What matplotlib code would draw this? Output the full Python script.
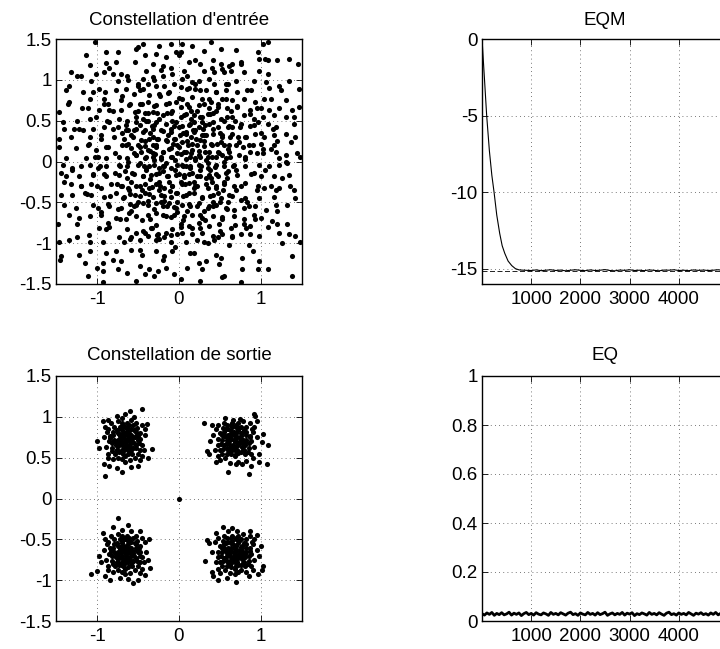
import numpy as np
import matplotlib
matplotlib.use("Agg")
import matplotlib.pyplot as plt

plt.rcParams['font.family'] = ['Liberation Sans', 'DejaVu Sans']
plt.rcParams['axes.unicode_minus'] = False

# ---------------- data ----------------
titles = ["Constellation d'entrée", "EQM", "Constellation de sortie", "EQ"]

# input constellation, by region
in_tl = [(-1.03,1.46),(-1.13,1.30),(-1.09,1.18),(-0.89,1.34),(-0.75,1.34),(-0.77,1.22),(-0.89,1.21),(-0.54,1.22),
 (-0.52,1.38),(-0.44,1.44),(-0.42,1.30),(-0.28,1.32),(-0.24,1.42),(-0.10,1.44),(-0.04,1.34),(-0.16,1.28),(-0.32,1.20),
 (-0.20,1.17),(-0.10,1.15),(-0.40,1.11),(-1.32,1.09),(-1.20,1.05),(-1.01,1.07),(-0.91,1.09),(-0.81,1.07),(-0.71,1.07),
 (-0.63,1.05),(-1.07,0.99),(-0.75,0.99),(-0.44,1.01),(-0.32,1.03),(-0.20,1.05),(-0.08,1.07),(-1.34,0.93),(-1.38,0.87),
 (-1.17,0.85),(-0.97,0.89),(-0.77,0.87),(-0.65,0.89),(-0.50,0.93),(-0.44,0.89),(-0.38,0.95),(-0.28,0.93),(-0.18,0.93),
 (-0.06,0.95),(-0.12,0.85),(-0.24,0.83),(-0.36,0.81),(-0.55,0.83),(-1.34,0.73),(-1.09,0.77),(-0.91,0.77),(-0.87,0.71),
 (-0.71,0.75),(-0.61,0.69),(-0.48,0.71),(-0.38,0.73),(-0.28,0.69),(-0.16,0.71),(-0.04,0.73),(-1.46,0.61),(-1.11,0.65),
 (-0.97,0.63),(-0.85,0.63),(-0.71,0.63),(-0.54,0.61),(-0.42,0.59),(-0.32,0.61),(-0.20,0.57),(-0.10,0.59),(-1.42,0.48),
 (-1.24,0.50),(-1.09,0.52),(-1.01,0.54),(-0.85,0.48),(-0.73,0.52),(-0.63,0.50),(-0.52,0.48),(-0.40,0.50),(-0.28,0.48),
 (-0.16,0.46),(-0.04,0.48),(-1.40,0.40),(-1.28,0.40),(-1.17,0.38),(-1.05,0.40),(-0.91,0.42),(-0.75,0.42),(-0.65,0.38),
 (-0.52,0.40),(-0.44,0.36),(-0.32,0.40),(-0.22,0.38),(-0.10,0.36),(-1.46,0.28),(-1.32,0.30),(-1.09,0.30),(-0.95,0.28),
 (-0.79,0.30),(-0.67,0.28),(-0.56,0.30),(-0.46,0.26),(-0.36,0.28),(-0.26,0.28),(-0.16,0.26),(-0.06,0.28),(-1.46,0.18),
 (-1.26,0.16),(-1.11,0.20),(-1.01,0.14),(-0.89,0.18),(-0.69,0.20),(-0.59,0.16),(-0.48,0.18),(-0.38,0.14),(-0.28,0.18),
 (-0.20,0.12),(-0.10,0.16),(-0.02,0.20),(-1.38,0.04),(-1.13,0.04),(-0.99,0.06),(-0.89,0.04),(-0.73,0.06),(-0.63,0.04),
 (-0.52,0.08),(-0.42,0.04),(-0.32,0.06),(-0.22,0.03),(-0.10,0.06)]

in_tr = [(0.04,1.44),(0.16,1.42),(0.39,1.46),(0.51,1.38),(0.69,1.36),(0.96,1.34),(1.02,1.44),(1.08,1.46),(0.02,1.34),
 (0.12,1.22),(0.20,1.24),(0.41,1.24),(0.51,1.20),(0.61,1.17),(0.65,1.20),(0.75,1.22),(0.98,1.26),(1.08,1.24),(1.20,1.24),
 (1.34,1.26),(0.06,1.11),(0.30,1.11),(0.43,1.09),(0.53,1.13),(0.63,1.11),(0.79,1.09),(0.98,1.11),(1.08,1.07),(0.04,1.01),
 (0.16,0.97),(0.24,0.99),(0.37,1.01),(0.43,0.95),(0.57,0.95),(0.69,0.99),(0.91,0.99),(1.06,0.97),(1.22,0.93),(1.34,0.99),
 (0.02,0.91),(0.10,0.89),(0.20,0.89),(0.33,0.87),(0.45,0.85),(0.57,0.87),(0.71,0.85),(0.83,0.87),(1.24,0.87),(1.46,0.89),
 (0.04,0.77),(0.16,0.79),(0.28,0.77),(0.39,0.73),(0.53,0.77),(0.65,0.75),(0.79,0.77),(0.93,0.73),(1.04,0.77),(1.12,0.77),
 (1.30,0.75),(0.02,0.67),(0.12,0.67),(0.24,0.69),(0.37,0.65),(0.47,0.67),(0.59,0.65),(0.71,0.67),(0.87,0.63),(1.00,0.65),
 (1.10,0.63),(1.22,0.65),(1.38,0.63),(1.46,0.67),(0.06,0.57),(0.18,0.57),(0.28,0.54),(0.41,0.59),(0.51,0.52),(0.65,0.54),
 (0.79,0.57),(0.91,0.52),(1.02,0.54),(1.16,0.57),(1.30,0.54),(0.04,0.44),(0.14,0.46),(0.24,0.42),(0.37,0.46),(0.47,0.42),
 (0.61,0.44),(0.75,0.46),(0.87,0.44),(0.96,0.48),(1.08,0.46),(1.18,0.42),(1.40,0.46),(0.08,0.34),(0.18,0.36),(0.30,0.32),
 (0.41,0.34),(0.53,0.32),(0.65,0.34),(0.81,0.30),(0.93,0.34),(1.04,0.30),(1.16,0.32),(1.30,0.34),(1.42,0.30),(0.04,0.24),
 (0.16,0.22),(0.26,0.26),(0.39,0.22),(0.51,0.24),(0.61,0.20),(0.73,0.24),(0.85,0.20),(1.00,0.22),(1.16,0.20),(1.36,0.24),
 (0.06,0.12),(0.16,0.14),(0.24,0.08),(0.37,0.12),(0.49,0.10),(0.61,0.12),(0.73,0.08),(0.87,0.12),(1.02,0.10),(1.18,0.12),
 (1.30,0.08),(1.44,0.10),(0.08,0.03),(0.20,0.04),(0.33,0.02),(0.57,0.04),(0.81,0.03),(1.22,0.04),(1.48,0.06)]

in_bl = [(-1.42,-0.04),(-1.30,-0.08),(-1.20,-0.06),(-1.09,-0.04),(-0.99,-0.08),(-0.89,-0.06),(-0.73,-0.04),(-0.63,-0.06),
 (-0.50,-0.04),(-0.40,-0.08),(-0.30,-0.04),(-0.20,-0.06),(-0.10,-0.08),(-0.02,-0.04),(-1.44,-0.14),(-1.38,-0.18),
 (-1.22,-0.18),(-1.05,-0.16),(-0.89,-0.18),(-0.73,-0.16),(-0.57,-0.14),(-0.44,-0.18),(-0.34,-0.16),(-0.24,-0.14),
 (-0.14,-0.18),(-0.04,-0.16),(-1.32,-0.28),(-1.20,-0.30),(-1.07,-0.28),(-0.95,-0.33),(-0.83,-0.28),(-0.71,-0.30),
 (-0.61,-0.35),(-0.48,-0.30),(-0.36,-0.33),(-0.28,-0.28),(-0.18,-0.33),(-0.08,-0.30),(-1.44,-0.41),(-1.30,-0.41),
 (-1.15,-0.39),(-1.07,-0.41),(-0.91,-0.43),(-0.77,-0.39),(-0.67,-0.43),(-0.54,-0.41),(-0.42,-0.39),(-0.32,-0.43),
 (-0.22,-0.41),(-0.10,-0.43),(-0.02,-0.39),(-1.40,-0.53),(-1.26,-0.57),(-1.05,-0.53),(-0.99,-0.57),(-0.85,-0.55),
 (-0.71,-0.57),(-0.61,-0.63),(-0.52,-0.53),(-0.44,-0.51),(-0.38,-0.53),(-0.28,-0.51),(-0.20,-0.55),(-0.12,-0.51),
 (-0.04,-0.57),(-1.34,-0.65),(-1.22,-0.69),(-1.09,-0.67),(-0.95,-0.65),(-0.87,-0.75),(-0.77,-0.69),(-0.65,-0.71),
 (-0.52,-0.67),(-0.38,-0.65),(-0.28,-0.63),(-0.16,-0.67),(-0.06,-0.65),(-1.48,-0.77),(-1.24,-0.77),(-0.97,-0.81),
 (-0.89,-0.83),(-0.63,-0.83),(-0.52,-0.87),(-0.44,-0.85),(-0.34,-0.81),(-0.26,-0.89),(-0.16,-0.87),(-0.08,-0.83),
 (-0.02,-0.89),(-1.46,-0.98),(-1.34,-0.96),(-1.24,-0.93),(-1.09,-0.98),(-0.93,-0.98),(-0.73,-0.93),(-0.67,-0.98),
 (-0.59,-0.93),(-0.48,-0.96),(-0.38,-0.91),(-0.28,-0.96),(-0.18,-0.93),(-0.10,-0.98),(-1.44,-1.16),(-1.22,-1.14),
 (-1.09,-1.10),(-0.89,-1.12),(-0.77,-1.10),(-0.48,-1.08),(-0.28,-1.10),(-0.18,-1.16),(-0.08,-1.10),(-1.15,-1.24),
 (-0.93,-1.24),(-0.71,-1.22),(-0.48,-1.28),(-0.36,-1.32),(-0.26,-1.34),(-0.16,-1.30),(-1.11,-1.40),(-0.93,-1.34),
 (-0.75,-1.32),(-0.63,-1.36),(-0.42,-1.38),(-0.06,-1.38),(-0.93,-1.48),(-0.52,-1.46)]

in_br = [(0.04,-0.04),(0.14,-0.06),(0.24,-0.04),(0.35,-0.08),(0.45,-0.04),(0.55,-0.06),(0.67,-0.04),(0.81,-0.06),
 (0.98,-0.04),(1.10,-0.06),(1.22,-0.04),(1.32,-0.02),(0.06,-0.16),(0.16,-0.14),(0.26,-0.18),(0.37,-0.16),(0.47,-0.18),
 (0.57,-0.14),(0.71,-0.16),(0.91,-0.14),(1.00,-0.18),(1.16,-0.18),(1.26,-0.20),(1.34,-0.16),(0.04,-0.28),(0.12,-0.26),
 (0.22,-0.30),(0.33,-0.28),(0.45,-0.33),(0.55,-0.28),(0.67,-0.30),(0.81,-0.26),(0.96,-0.30),(1.04,-0.33),(1.12,-0.30),
 (1.22,-0.33),(1.40,-0.35),(0.08,-0.41),(0.18,-0.39),(0.28,-0.43),(0.41,-0.41),(0.51,-0.45),(0.61,-0.41),(0.75,-0.47),
 (0.83,-0.49),(0.98,-0.45),(1.16,-0.43),(1.32,-0.53),(1.42,-0.45),(0.04,-0.53),(0.14,-0.55),(0.24,-0.51),(0.35,-0.57),
 (0.45,-0.53),(0.57,-0.57),(0.67,-0.59),(0.79,-0.57),(0.93,-0.55),(1.06,-0.59),(1.18,-0.53),(0.06,-0.67),(0.16,-0.65),
 (0.28,-0.69),(0.41,-0.67),(0.53,-0.71),(0.67,-0.67),(0.79,-0.71),(0.91,-0.65),(1.00,-0.69),(1.14,-0.73),(0.02,-0.77),
 (0.12,-0.79),(0.24,-0.75),(0.37,-0.79),(0.49,-0.77),(0.63,-0.81),(0.79,-0.77),(0.87,-0.79),(1.20,-0.77),(1.32,-0.77),
 (0.04,-0.87),(0.16,-0.89),(0.28,-0.87),(0.41,-0.91),(0.53,-0.89),(0.65,-0.91),(0.75,-0.89),(0.87,-0.89),(0.98,-0.91),
 (1.22,-0.87),(1.34,-0.89),(1.42,-0.91),(0.08,-0.98),(0.22,-0.96),(0.30,-0.98),(0.43,-0.96),(0.61,-1.02),(0.85,-1.02),
 (1.48,-0.98),(0.14,-1.12),(0.45,-1.14),(0.51,-1.18),(0.77,-1.18),(0.98,-1.22),(1.38,-1.16),(0.24,-1.24),(0.33,-1.22),
 (0.49,-1.26),(0.28,-1.32),(0.53,-1.42),(0.77,-1.32),(0.96,-1.32),(1.08,-1.32),(1.38,-1.40),(0.26,-1.46),(0.75,-1.48),
 (0.02,-1.44)]

in_center = [(-0.05,0.02),(0.08,-0.05),(0.15,0.1),(-0.12,0.15),(0.22,-0.18),(-0.25,-0.08),(0.3,0.25),(-0.32,0.3),
 (0.05,0.35),(-0.08,-0.3),(0.35,-0.02),(-0.4,0.05),(0.12,-0.38),(-0.18,-0.42),(0.42,0.4),(-0.45,-0.35),(0.28,-0.45),
 (-0.3,0.45),(0.48,0.12),(-0.5,0.2),(0.18,0.48),(-0.02,-0.5),(0.55,-0.25),(-0.55,-0.15),(0.02,0.55),(0.38,0.58),
 (-0.38,0.6),(0.6,-0.5),(-0.6,-0.52),(0.1,-0.6),(-0.22,0.05),(0.25,0.05),(0.0,-0.15),(0.0,0.18),(-0.15,-0.18),
 (0.18,-0.25),(-0.35,-0.22),(0.32,0.12),(-0.28,0.2),(0.1,0.25),(-0.1,0.4),(0.45,-0.15),(-0.48,-0.02),(0.2,0.38),
 (-0.25,-0.35),(0.35,-0.32),(-0.42,0.38),(0.52,0.3),(-0.58,0.32),(0.05,-0.42),(0.62,0.05),(-0.62,0.0),(0.3,-0.6),
 (-0.3,-0.58),(0.58,0.55),(-0.52,0.55),(0.15,0.62),(-0.15,0.6),(0.7,-0.35),(-0.7,-0.3),(0.4,0.2),(-0.4,-0.1),
 (0.25,-0.1),(-0.05,0.28),(0.08,0.12),(-0.18,-0.05),(0.12,-0.15),(-0.32,0.1),(0.22,0.2),(-0.12,-0.25),(0.38,-0.42),
 (-0.08,0.5),(0.48,-0.38),(-0.48,0.45),(0.02,-0.25),(0.32,0.45),(-0.22,-0.5),(0.55,0.0),(-0.6,-0.4),(0.65,0.42),
 (-0.65,0.2),(0.42,-0.55),(-0.38,-0.48),(0.6,-0.12),(-0.25,0.52),(0.12,0.45),(-0.02,-0.62),(0.45,0.62),(-0.45,0.7),
 (0.7,0.2),(0.28,0.32),(-0.35,0.35),(0.18,-0.32),(-0.15,0.25),(0.05,-0.05),(-0.05,-0.1),(0.35,0.05),(-0.28,-0.15),
 (0.15,0.3),(-0.2,0.12),(0.4,-0.25),(-0.42,-0.28),(0.25,0.55),(-0.15,-0.55),(0.5,-0.5),(-0.55,0.1),(0.0,0.42),
 (0.55,0.2),(-0.5,-0.5),(0.22,-0.55)]

in_extra = [(0.03,0.09),(-0.09,0.06),(0.19,0.02),(-0.2,-0.12),(0.11,0.2),(-0.07,0.21),(0.27,-0.05),(-0.31,0.02),
 (0.06,-0.19),(-0.14,0.33),(0.31,0.19),(-0.27,0.27),(0.2,-0.3),(-0.11,-0.36),(0.38,-0.1),(-0.37,-0.05),(0.09,0.36),
 (-0.02,0.11),(0.14,-0.08),(-0.24,-0.25),(0.33,0.32),(-0.35,0.13),(0.24,0.13),(-0.04,-0.38),(0.17,0.39),(-0.19,0.37),
 (0.39,-0.2),(-0.33,-0.31),(0.01,0.32),(-0.29,0.09),(0.45,0.05),(-0.46,0.12),(0.5,0.35),(-0.52,-0.3),(0.41,-0.5),
 (-0.44,0.52),(0.6,0.15),(-0.62,0.22),(0.1,0.7),(-0.12,0.72),(0.05,-0.72),(-0.1,-0.68),(0.7,-0.1),(-0.72,-0.05),
 (0.55,0.5),(-0.58,-0.6),(0.58,-0.58),(-0.5,0.62),(0.3,0.7),(-0.3,0.68),(0.32,-0.72),(-0.35,-0.7),(0.72,0.3),
 (-0.7,0.35),(0.75,-0.3),(-0.76,-0.28),(0.22,0.62),(-0.2,-0.65),(0.65,-0.42),(-0.65,0.45),(0.48,0.7),(-0.45,-0.72),
 (0.8,0.05),(-0.78,0.1),(0.0,0.78),(0.02,-0.8),(0.42,0.48),(-0.48,-0.42),(0.63,0.62),(-0.6,0.7),(0.52,-0.68),
 (-0.55,-0.55),(0.68,0.5),(-0.68,-0.45),(0.35,0.58),(-0.38,0.5),(0.45,-0.3),(-0.42,0.25),(0.58,-0.2),(-0.58,-0.25),
 (0.46,0.22),(-0.53,0.08),(0.12,-0.52),(-0.08,0.62),(0.26,-0.65),(-0.27,0.6),(0.66,-0.05),(-0.66,-0.12),(0.15,0.52),
 (-0.18,-0.48),(0.52,0.08),(-0.44,-0.18),(0.37,-0.55),(-0.33,0.43),(0.28,0.48),(-0.62,0.38),(0.74,0.42),(-0.74,-0.58),
 (0.57,0.77),(-0.28,-0.78),(0.9,0.2),(-0.92,-0.15),(0.85,-0.55),(-0.88,0.5),(0.2,0.95),(-0.25,-0.95),(0.95,0.65),
 (-0.95,-0.62),(0.6,0.95),(-0.62,1.0),(0.65,-0.92),(-0.6,-0.95),(1.05,-0.1),(-1.02,0.05),(0.1,1.05),(-0.05,-1.05),
 (1.15,0.4),(-1.12,-0.4),(0.4,1.15),(-0.45,-1.15),(1.2,-0.6),(-1.18,0.65),(0.75,1.2),(-0.8,-1.2),(1.3,0.0),
 (-1.3,-0.1),(0.0,1.3),(0.1,-1.3),(1.1,0.9),(-1.1,-0.9),(0.9,-1.1),(-0.85,1.15),(1.4,0.55),(-1.35,0.7),(0.55,-1.4),
 (-0.5,1.4),(1.25,-1.0),(-1.25,1.05),(1.05,1.25),(-1.0,-1.3),(0.88,0.88),(-0.9,0.85),(0.82,-0.82),(-0.85,-0.8),
 (1.0,0.35),(-1.0,-0.3),(0.35,-1.0),(-0.3,1.0),(0.95,-0.35),(-0.95,0.32),(1.12,0.15),(-1.1,0.22),(0.18,-1.12),
 (-0.22,1.12),(1.35,-0.3),(-1.4,-0.25),(0.3,1.35),(-0.3,-1.4),(1.45,1.2),(-1.45,-1.2),(0.82,0.3),(-0.84,-0.42),
 (0.45,0.85),(-0.48,0.88),(0.5,-0.85),(-0.42,-0.88),(0.88,-0.15),(-0.86,0.18),(0.92,0.45),(-0.8,0.62)]

in_extra2 = [(0.13,0.05),(-0.16,-0.02),(0.07,-0.28),(-0.06,0.44),(0.29,0.4),(-0.41,0.19),(0.44,-0.07),(-0.23,-0.3),
 (0.21,0.27),(-0.37,-0.4),(0.62,0.3),(-0.64,-0.2),(0.36,0.76),(-0.33,-0.82),(0.8,-0.45),(-0.8,0.4),(0.16,-0.82),
 (-0.14,0.84),(0.71,0.68),(-0.72,-0.7),(0.54,-0.35),(-0.55,0.38),(0.86,0.58),(-0.87,-0.52),(0.48,-0.92),(-0.5,0.95),
 (0.93,-0.7),(-0.92,0.7),(1.02,0.15),(-1.05,-0.15),(0.26,0.88),(-0.27,-0.9),(0.78,0.18),(-0.78,-0.14),(0.12,0.9),
 (-0.1,-0.9),(0.68,-0.78),(-0.7,0.8),(0.95,0.1),(-0.96,-0.05),(0.4,0.05),(-0.43,-0.05),(0.08,0.58),(-0.06,-0.56),
 (0.33,-0.2),(-0.32,0.2),(0.6,0.42),(-0.62,-0.32),(0.25,-0.82),(-0.23,0.8),(1.2,0.25),(-1.2,-0.3),(0.25,1.2),
 (-0.2,-1.2),(1.18,-0.35),(-1.22,0.4),(0.55,1.1),(-0.58,-1.08),(1.08,-0.8),(-1.05,0.85)]

# output constellation, one list per cluster
out_ul = [(-0.45,1.10),(-0.60,1.07),(-0.76,1.01),(-0.66,1.03),(-0.39,0.91),(-0.33,0.61),(-0.90,0.28),(-0.70,0.32),
 (-0.76,0.37),(-0.58,0.38),(-1.00,0.70),(-0.93,0.95),(-0.87,0.96),(-0.55,1.00),(-0.42,0.78),(-0.38,0.50),(-0.92,0.42),
 (-0.85,0.40),(-0.50,0.40),(-0.98,0.62),(-0.65,0.70),(-0.60,0.75),(-0.70,0.65),(-0.55,0.68),(-0.75,0.72),(-0.62,0.60),
 (-0.68,0.80),(-0.58,0.85),(-0.72,0.88),(-0.80,0.78),(-0.82,0.62),(-0.50,0.72),(-0.48,0.60),(-0.52,0.82),(-0.78,0.55),
 (-0.66,0.52),(-0.57,0.55),(-0.85,0.70),(-0.88,0.82),(-0.45,0.66),(-0.63,0.92),(-0.75,0.95),(-0.53,0.92),(-0.86,0.55),
 (-0.70,0.48),(-0.60,0.47),(-0.45,0.52),(-0.90,0.88),(-0.42,0.85),(-0.80,0.48),(-0.67,0.74),(-0.63,0.66),(-0.71,0.71),
 (-0.59,0.70),(-0.64,0.78),(-0.69,0.60),(-0.56,0.62),(-0.74,0.80),(-0.61,0.83),(-0.77,0.66),(-0.53,0.77),(-0.66,0.88),
 (-0.79,0.88),(-0.84,0.77),(-0.73,0.57),(-0.58,0.78),(-0.48,0.80),(-0.50,0.55),(-0.62,0.54),(-0.82,0.68),(-0.89,0.63),
 (-0.47,0.73),(-0.56,0.90),(-0.70,0.92),(-0.83,0.92),(-0.76,0.84),(-0.68,0.55),(-0.54,0.50),(-0.43,0.60),(-0.87,0.50),
 (-0.72,0.76),(-0.66,0.64),(-0.60,0.63),(-0.64,0.72),(-0.74,0.68),(-0.57,0.74),(-0.69,0.84),(-0.79,0.72),(-0.61,0.90),
 (-0.51,0.86),(-0.45,0.90),(-0.92,0.75),(-0.86,0.85),(-0.76,0.60),(-0.52,0.65),(-0.66,0.45),(-0.74,0.50),(-0.58,0.96),
 (-0.69,0.98),(-0.47,0.47),
 (-0.66,0.70),(-0.62,0.72),(-0.70,0.68),(-0.64,0.64),(-0.68,0.76),(-0.60,0.67),(-0.72,0.73),(-0.65,0.81),(-0.67,0.59),
 (-0.57,0.71),(-0.75,0.64),(-0.61,0.78),(-0.73,0.79),(-0.58,0.60),(-0.78,0.70),(-0.54,0.75),(-0.70,0.57),(-0.63,0.86),
 (-0.80,0.82),(-0.52,0.62),(-0.76,0.60),(-0.55,0.84),(-0.82,0.58),(-0.49,0.68),(-0.71,0.86),(-0.60,0.58),(-0.84,0.74),
 (-0.50,0.77),(-0.66,0.62),(-0.68,0.90)]

out_ur = [(0.91,1.03),(0.93,1.01),(0.30,0.93),(1.09,0.65),(1.07,0.42),(0.85,0.30),(0.60,0.32),(0.36,0.54),(0.34,0.58),
 (0.38,0.71),(1.01,0.69),(1.03,0.79),(0.40,0.90),(0.98,0.55),(0.98,0.45),(0.45,0.45),(0.88,0.40),(0.42,0.78),(0.95,0.95),
 (0.56,0.98),(0.68,0.70),(0.62,0.75),(0.72,0.65),(0.58,0.68),(0.78,0.72),(0.65,0.60),(0.70,0.80),(0.60,0.85),(0.75,0.88),
 (0.82,0.78),(0.85,0.62),(0.52,0.72),(0.50,0.60),(0.55,0.82),(0.80,0.55),(0.68,0.52),(0.58,0.55),(0.88,0.70),(0.90,0.82),
 (0.47,0.66),(0.65,0.92),(0.78,0.95),(0.55,0.92),(0.88,0.55),(0.72,0.45),(0.62,0.44),(0.47,0.52),(0.92,0.88),(0.45,0.85),
 (0.82,0.46),(0.70,0.74),(0.66,0.66),(0.74,0.71),(0.61,0.70),(0.67,0.78),(0.71,0.60),(0.58,0.62),(0.77,0.80),(0.63,0.83),
 (0.80,0.66),(0.55,0.77),(0.69,0.88),(0.82,0.88),(0.87,0.77),(0.76,0.57),(0.60,0.78),(0.50,0.80),(0.52,0.55),(0.64,0.54),
 (0.85,0.68),(0.92,0.63),(0.48,0.73),(0.58,0.90),(0.72,0.92),(0.86,0.92),(0.79,0.84),(0.70,0.55),(0.56,0.50),(0.44,0.60),
 (0.90,0.50),(0.75,0.76),(0.69,0.64),(0.63,0.63),(0.67,0.72),(0.77,0.68),(0.60,0.74),(0.72,0.84),(0.82,0.72),(0.64,0.90),
 (0.54,0.86),(0.47,0.90),(0.95,0.75),(0.89,0.85),(0.79,0.60),(0.55,0.65),(0.69,0.42),(0.77,0.42),(0.66,0.96),(0.74,0.97),
 (0.50,0.47),
 (0.68,0.70),(0.64,0.73),(0.72,0.67),(0.66,0.63),(0.70,0.77),(0.62,0.66),(0.74,0.74),(0.67,0.82),(0.69,0.58),(0.59,0.72),
 (0.77,0.63),(0.63,0.79),(0.75,0.80),(0.60,0.59),(0.80,0.69),(0.56,0.76),(0.72,0.56),(0.65,0.87),(0.82,0.81),(0.54,0.61),
 (0.78,0.59),(0.57,0.85),(0.84,0.57),(0.51,0.67),(0.73,0.86),(0.62,0.57),(0.86,0.75),(0.52,0.78),(0.68,0.61),(0.70,0.90)]

out_ll = [(-0.74,-0.24),(-1.07,-0.92),(-1.00,-0.89),(-0.37,-0.49),(-0.35,-0.85),(-0.41,-0.94),(-0.56,-1.04),(-0.84,-1.00),
 (-0.50,-1.00),(-0.95,-0.78),(-0.93,-0.42),(-0.40,-0.65),(-0.80,-0.35),(-0.62,-0.33),(-0.38,-0.75),(-0.90,-0.95),
 (-0.62,-0.98),(-0.72,-0.97),(-0.97,-0.70),(-0.48,-0.40),(-0.65,-0.68),(-0.60,-0.63),(-0.70,-0.73),(-0.55,-0.70),
 (-0.75,-0.66),(-0.62,-0.78),(-0.68,-0.58),(-0.58,-0.53),(-0.72,-0.50),(-0.80,-0.60),(-0.82,-0.76),(-0.50,-0.66),
 (-0.48,-0.78),(-0.52,-0.56),(-0.78,-0.83),(-0.66,-0.86),(-0.57,-0.83),(-0.85,-0.68),(-0.88,-0.56),(-0.45,-0.72),
 (-0.63,-0.46),(-0.75,-0.43),(-0.53,-0.46),(-0.86,-0.83),(-0.70,-0.90),(-0.60,-0.91),(-0.45,-0.86),(-0.90,-0.50),
 (-0.42,-0.53),(-0.80,-0.90),(-0.67,-0.64),(-0.63,-0.72),(-0.71,-0.67),(-0.59,-0.68),(-0.64,-0.60),(-0.69,-0.78),
 (-0.56,-0.76),(-0.74,-0.58),(-0.61,-0.55),(-0.77,-0.72),(-0.53,-0.61),(-0.66,-0.50),(-0.79,-0.50),(-0.84,-0.61),
 (-0.73,-0.81),(-0.58,-0.60),(-0.48,-0.58),(-0.50,-0.83),(-0.62,-0.84),(-0.82,-0.70),(-0.89,-0.75),(-0.47,-0.65),
 (-0.56,-0.48),(-0.70,-0.46),(-0.83,-0.46),(-0.76,-0.54),(-0.68,-0.83),(-0.54,-0.88),(-0.43,-0.78),(-0.87,-0.88),
 (-0.72,-0.62),(-0.66,-0.74),(-0.60,-0.75),(-0.64,-0.66),(-0.74,-0.70),(-0.57,-0.64),(-0.69,-0.54),(-0.79,-0.66),
 (-0.61,-0.48),(-0.51,-0.52),(-0.45,-0.48),(-0.92,-0.63),(-0.86,-0.53),(-0.76,-0.78),(-0.52,-0.73),(-0.66,-0.93),
 (-0.74,-0.88),(-0.58,-0.40),(-0.69,-0.38),(-0.47,-0.91),
 (-0.65,-0.68),(-0.61,-0.66),(-0.69,-0.70),(-0.63,-0.74),(-0.67,-0.62),(-0.59,-0.71),(-0.71,-0.64),(-0.64,-0.57),
 (-0.66,-0.79),(-0.56,-0.67),(-0.74,-0.74),(-0.60,-0.60),(-0.72,-0.59),(-0.57,-0.78),(-0.77,-0.68),(-0.53,-0.63),
 (-0.69,-0.81),(-0.62,-0.52),(-0.79,-0.56),(-0.51,-0.76),(-0.75,-0.79),(-0.54,-0.54),(-0.81,-0.80),(-0.48,-0.70),
 (-0.70,-0.52),(-0.59,-0.82),(-0.83,-0.64),(-0.49,-0.61),(-0.65,-0.76),(-0.67,-0.48)]

out_lr = [(0.54,-0.35),(0.32,-0.77),(0.48,-1.00),(0.70,-1.02),(1.03,-0.83),(1.01,-0.87),(0.86,-0.40),(0.34,-0.51),
 (0.36,-0.55),(0.40,-0.90),(0.96,-0.92),(0.98,-0.70),(1.00,-0.58),(0.40,-0.65),(0.85,-0.95),(0.45,-0.42),(0.58,-0.97),
 (0.95,-0.45),(0.65,-0.36),(0.42,-0.95),(0.68,-0.68),(0.62,-0.63),(0.72,-0.73),(0.58,-0.70),(0.78,-0.66),(0.65,-0.78),
 (0.70,-0.58),(0.60,-0.53),(0.75,-0.50),(0.82,-0.60),(0.85,-0.76),(0.52,-0.66),(0.50,-0.78),(0.55,-0.56),(0.80,-0.83),
 (0.68,-0.86),(0.58,-0.83),(0.88,-0.68),(0.90,-0.56),(0.47,-0.72),(0.65,-0.46),(0.78,-0.43),(0.55,-0.46),(0.88,-0.83),
 (0.72,-0.90),(0.62,-0.91),(0.47,-0.86),(0.92,-0.50),(0.44,-0.53),(0.82,-0.90),(0.70,-0.64),(0.66,-0.72),(0.74,-0.67),
 (0.61,-0.68),(0.67,-0.60),(0.71,-0.78),(0.58,-0.76),(0.77,-0.58),(0.63,-0.55),(0.80,-0.72),(0.55,-0.61),(0.69,-0.50),
 (0.82,-0.50),(0.87,-0.61),(0.76,-0.81),(0.60,-0.60),(0.50,-0.58),(0.52,-0.83),(0.64,-0.84),(0.85,-0.70),(0.92,-0.75),
 (0.48,-0.65),(0.58,-0.48),(0.72,-0.46),(0.86,-0.46),(0.79,-0.54),(0.70,-0.83),(0.56,-0.88),(0.45,-0.78),(0.90,-0.88),
 (0.75,-0.62),(0.69,-0.74),(0.63,-0.75),(0.67,-0.66),(0.77,-0.70),(0.60,-0.64),(0.72,-0.54),(0.82,-0.66),(0.64,-0.48),
 (0.54,-0.52),(0.48,-0.48),(0.95,-0.63),(0.89,-0.53),(0.79,-0.78),(0.55,-0.73),(0.68,-0.93),(0.76,-0.88),(0.60,-0.40),
 (0.71,-0.40),(0.50,-0.91),
 (0.68,-0.68),(0.64,-0.66),(0.72,-0.70),(0.66,-0.74),(0.70,-0.62),(0.62,-0.71),(0.74,-0.64),(0.67,-0.57),(0.69,-0.79),
 (0.59,-0.67),(0.77,-0.74),(0.63,-0.60),(0.75,-0.59),(0.60,-0.78),(0.80,-0.68),(0.56,-0.63),(0.72,-0.81),(0.65,-0.52),
 (0.82,-0.56),(0.54,-0.76),(0.78,-0.79),(0.57,-0.54),(0.84,-0.80),(0.51,-0.70),(0.73,-0.52),(0.62,-0.82),(0.86,-0.64),
 (0.52,-0.61),(0.68,-0.76),(0.70,-0.48)]

out_origin = [(0.0, 0.0)]

# EQM (dB) learning curve
eqm_n = [1, 25, 50, 95, 150, 200, 245, 300, 360, 410, 463, 530, 605, 680, 755, 850,
         1000, 1100, 1200, 1300, 1400, 1500, 1600, 1700, 1800, 1900, 2000, 2100, 2200, 2300,
         2400, 2500, 2600, 2700, 2800, 2900, 3000, 3100, 3200, 3300, 3400, 3500, 3600, 3700,
         3800, 3900, 4000, 4100, 4200, 4300, 4400, 4500, 4600, 4700, 4800, 4900, 5000]
eqm_db = [0.0, -1.3, -2.6, -5.0, -7.3, -8.9, -10.0, -11.5, -12.7, -13.5, -14.0, -14.5, -14.8, -15.0, -15.08, -15.1,
          -15.12, -15.08, -15.13, -15.10, -15.07, -15.12, -15.09, -15.14, -15.10, -15.07, -15.11, -15.13, -15.08, -15.12,
          -15.10, -15.06, -15.12, -15.14, -15.09, -15.11, -15.07, -15.12, -15.10, -15.13, -15.08, -15.11, -15.14, -15.09,
          -15.10, -15.07, -15.12, -15.10, -15.13, -15.08, -15.11, -15.09, -15.12, -15.10, -15.07, -15.11, -15.10]
eqm_floor = -15.12

# EQ (error magnitude) trace
eq_n = list(range(0, 5001, 50))
eq_val = [0.030, 0.024, 0.033, 0.027, 0.035, 0.023, 0.031, 0.026, 0.034, 0.025, 0.029, 0.036, 0.024, 0.032, 0.027,
          0.033, 0.022, 0.030, 0.035, 0.026, 0.031, 0.024, 0.034, 0.028, 0.025, 0.033, 0.029, 0.023, 0.035, 0.027,
          0.031, 0.025, 0.034, 0.029, 0.024, 0.032, 0.036, 0.026, 0.030, 0.023, 0.033, 0.028, 0.025, 0.035, 0.027,
          0.031, 0.024, 0.034, 0.026, 0.030, 0.036, 0.023, 0.029, 0.033, 0.025, 0.031, 0.027, 0.035, 0.024, 0.032,
          0.028, 0.034, 0.022, 0.030, 0.026, 0.033, 0.029, 0.024, 0.035, 0.027, 0.031, 0.025, 0.034, 0.028, 0.023,
          0.032, 0.036, 0.026, 0.030, 0.024, 0.033, 0.027, 0.031, 0.025, 0.035, 0.029, 0.023, 0.032, 0.028, 0.034,
          0.026, 0.030, 0.024, 0.033, 0.027, 0.035, 0.025, 0.031, 0.029, 0.023, 0.032]

const_ticks = [-1.5, -1, -0.5, 0, 0.5, 1, 1.5]
const_ticklabels = ["-1.5", "-1", "-0.5", "0", "0.5", "1", "1.5"]
const_xticks = [-1, 0, 1]
const_xticklabels = ["-1", "0", "1"]
eqm_yticks = [-15, -10, -5, 0]
eqm_yticklabels = ["-15", "-10", "-5", "0"]
time_ticks = [1000, 2000, 3000, 4000]
time_ticklabels = ["1000", "2000", "3000", "4000"]
eq_yticks = [0, 0.2, 0.4, 0.6, 0.8, 1]
eq_yticklabels = ["0", "0.2", "0.4", "0.6", "0.8", "1"]

# ---------------- figure ----------------
W, H = 720, 649
FS = 13.5
fig = plt.figure(figsize=(W / 100, H / 100), dpi=100)

def px_axes(l, t, r, b):
    return fig.add_axes([l / W, 1 - b / H, (r - l) / W, (b - t) / H])

ax_in = px_axes(56, 39, 302, 284)
ax_eqm = px_axes(482, 39, 728, 284)
ax_out = px_axes(56, 376, 302, 621)
ax_eq = px_axes(482, 376, 728, 621)

grid_kw = dict(color='0.3', linestyle=(0, (1, 4)), linewidth=0.6)

for ax in (ax_in, ax_eqm, ax_out, ax_eq):
    ax.tick_params(direction='in', length=4, width=0.6, top=True, right=True,
                   labelsize=FS, colors='black')
    ax.tick_params(axis='x', pad=5)
    ax.tick_params(axis='y', pad=3)
    for s in ax.spines.values():
        s.set_linewidth(1.0)
    ax.grid(True, **grid_kw)
    ax.set_axisbelow(True)

dot_kw = dict(linestyle='none', marker='o', markersize=3.7, markeredgewidth=0, color='black')

def plot_pts(ax, pts):
    a = np.array(pts)
    ax.plot(a[:, 0], a[:, 1], **dot_kw)

for pts in (in_tl, in_tr, in_bl, in_br, in_center, in_extra, in_extra2):
    plot_pts(ax_in, pts)
for pts in (out_ul, out_ur, out_ll, out_lr, out_origin):
    plot_pts(ax_out, pts)

for ax, title, pad in ((ax_in, titles[0], 10), (ax_out, titles[2], 11.5)):
    ax.set_xlim(-1.5, 1.5)
    ax.set_ylim(-1.5, 1.5)
    ax.set_xticks(const_xticks)
    ax.set_xticklabels(const_xticklabels)
    ax.set_yticks(const_ticks)
    ax.set_yticklabels(const_ticklabels)
    ax.set_title(title, fontsize=FS, pad=pad)

ax_eqm.plot(eqm_n, eqm_db, color='black', linewidth=0.8)
ax_eqm.axhline(eqm_floor, color='black', linewidth=0.6, linestyle=(0, (6, 3)))
ax_eqm.set_xlim(0, 5000)
ax_eqm.set_ylim(-16, 0)
ax_eqm.set_xticks(time_ticks)
ax_eqm.set_xticklabels(time_ticklabels)
ax_eqm.set_yticks(eqm_yticks)
ax_eqm.set_yticklabels(eqm_yticklabels)
ax_eqm.set_title(titles[1], fontsize=FS, pad=10)

ax_eq.plot(eq_n, eq_val, color='black', linewidth=2.0)
ax_eq.set_xlim(0, 5000)
ax_eq.set_ylim(0, 1)
ax_eq.set_xticks(time_ticks)
ax_eq.set_xticklabels(time_ticklabels)
ax_eq.set_yticks(eq_yticks)
ax_eq.set_yticklabels(eq_yticklabels)
ax_eq.set_title(titles[3], fontsize=FS, pad=11.5)

fig.savefig("out.png", dpi=100, facecolor='white')
